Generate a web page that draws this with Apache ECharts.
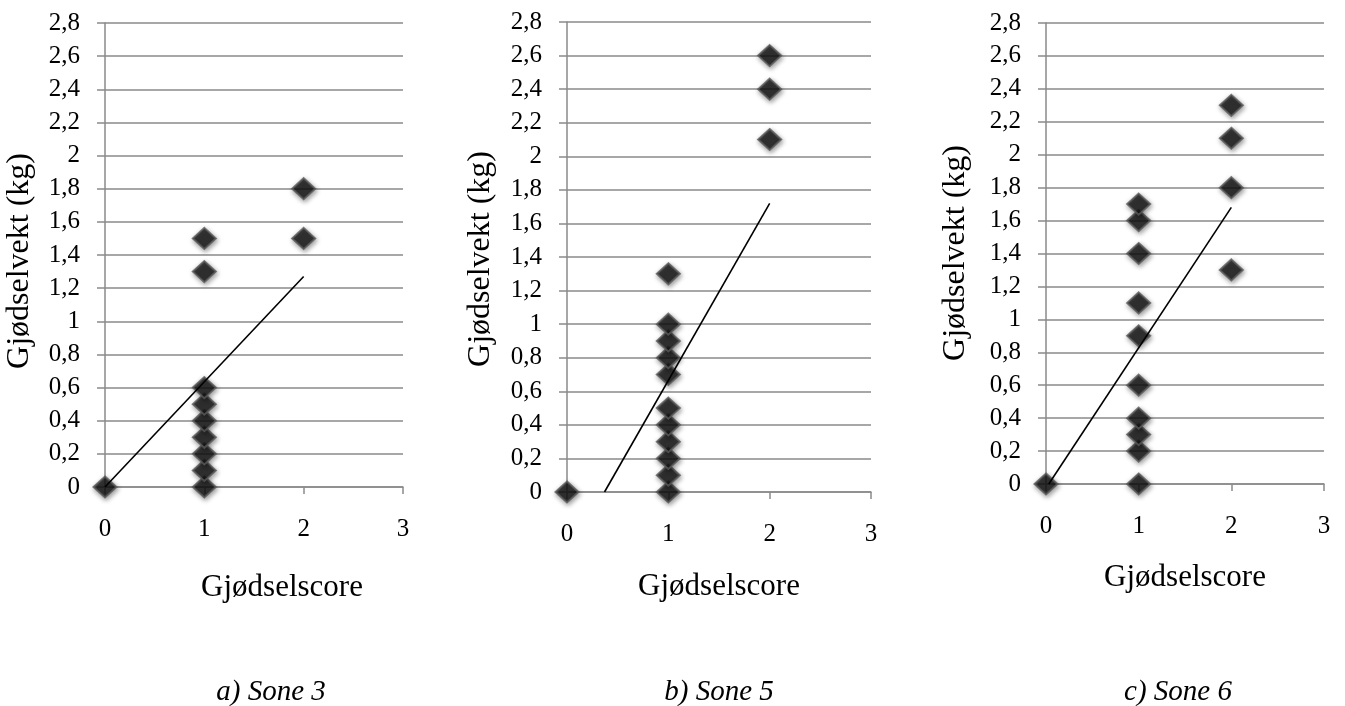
<!DOCTYPE html>
<html>
<head>
<meta charset="utf-8">
<title>Gjødselvekt mot gjødselscore</title>
<script src="https://cdn.jsdelivr.net/npm/echarts@6/dist/echarts.min.js"></script>
<style>
    html, body { margin: 0; padding: 0; background: #fff; }
    #main { width: 1345px; height: 706px; }
</style>
</head>
<body>
<div id="main"></div>
<script>
// data: gjødselscore (x) and gjødselvekt in kg (y)
var xTicks = [0, 1, 2, 3];
var yTicks = [0, 0.2, 0.4, 0.6, 0.8, 1, 1.2, 1.4, 1.6, 1.8, 2, 2.2, 2.4, 2.6, 2.8];

// a) Sone 3
var score3 = [0, 1, 1, 1, 1, 1, 1, 1, 1, 1, 2, 2];
var vekt3 = [0, 0, 0.1, 0.2, 0.3, 0.4, 0.5, 0.6, 1.3, 1.5, 1.5, 1.8];
var trendX3 = [0, 2];
var trendY3 = [0, 1.27];

// b) Sone 5
var score5 = [0, 1, 1, 1, 1, 1, 1, 1, 1, 1, 1, 1, 2, 2, 2];
var vekt5 = [0, 0, 0.1, 0.2, 0.3, 0.4, 0.5, 0.7, 0.8, 0.9, 1, 1.3, 2.1, 2.4, 2.6];
var trendX5 = [0.37, 2];
var trendY5 = [0, 1.72];

// c) Sone 6
var score6 = [0, 1, 1, 1, 1, 1, 1, 1, 1, 1, 1, 2, 2, 2, 2];
var vekt6 = [0, 0, 0.2, 0.3, 0.4, 0.6, 0.9, 1.1, 1.4, 1.6, 1.7, 1.3, 1.8, 2.1, 2.3];
var trendX6 = [0.03, 2];
var trendY6 = [0, 1.68];

var xTitle = 'Gjødselscore';
var yTitle = 'Gjødselvekt (kg)';
var captions = ['a) Sone 3', 'b) Sone 5', 'c) Sone 6'];

var serif = 'Liberation Serif';
var gridColor = '#8a8a8a';

function pairs(xs, ys) {
    var d = [];
    for (var i = 0; i < xs.length; i++) {
        d.push([xs[i], ys[i]]);
    }
    return d;
}

function comma(v) {
    return String(Math.round(v * 10) / 10).replace('.', ',');
}

// tick labels
var tickText = { fontFamily: serif, fontSize: 25, color: '#000' };

function xAxisFor(idx) {
    return {
        type: 'value', gridIndex: idx,
        min: xTicks[0], max: xTicks[xTicks.length - 1], interval: 1,
        axisLine: { show: true, onZero: false, lineStyle: { color: gridColor, width: 1.5 } },
        axisTick: { show: true, length: 7, lineStyle: { color: gridColor, width: 1.5 } },
        axisLabel: {
            margin: 30, fontFamily: tickText.fontFamily, fontSize: tickText.fontSize,
            color: tickText.color
        },
        splitLine: { show: false }
    };
}

function yAxisFor(idx) {
    return {
        type: 'value', gridIndex: idx,
        min: yTicks[0], max: yTicks[yTicks.length - 1], interval: 0.2,
        axisLine: { show: true, lineStyle: { color: gridColor, width: 1.5 } },
        axisTick: { show: true, length: 8, lineStyle: { color: gridColor, width: 1.5 } },
        axisLabel: {
            margin: 25, formatter: comma, fontFamily: tickText.fontFamily,
            fontSize: tickText.fontSize, color: tickText.color
        },
        splitLine: { show: true, lineStyle: { color: gridColor, width: 1.5 } }
    };
}

function scatterFor(idx, xs, ys) {
    return {
        type: 'scatter', xAxisIndex: idx, yAxisIndex: idx,
        symbol: 'diamond', symbolSize: [23, 21],
        itemStyle: {
            color: '#111',
            borderColor: '#5a5a5a', borderWidth: 2,
            shadowBlur: 5, shadowColor: 'rgba(0,0,0,0.45)', shadowOffsetX: 1, shadowOffsetY: 2
        },
        data: pairs(xs, ys), z: 2
    };
}

function trendFor(idx, xs, ys) {
    return {
        type: 'line', xAxisIndex: idx, yAxisIndex: idx,
        showSymbol: false, symbol: 'none', silent: true,
        lineStyle: { color: '#000', width: 1.6 },
        data: pairs(xs, ys), z: 3
    };
}

function label(text, x, y, size, rot, italic) {
    return {
        type: 'text', x: x, y: y, rotation: rot || 0,
        style: {
            text: text, fill: '#000', align: 'center', verticalAlign: 'middle',
            font: (italic ? 'italic ' : '') + size + 'px ' + serif
        }
    };
}

var chart = echarts.init(document.getElementById('main'));
chart.setOption({
    backgroundColor: '#fff',
    animation: false,
    textStyle: { fontFamily: serif, color: '#000' },
    grid: [
        { left: 105, top: 23, width: 298, height: 464 },
        { left: 567, top: 22, width: 304, height: 470 },
        { left: 1046, top: 23, width: 278, height: 461 }
    ],
    xAxis: [xAxisFor(0), xAxisFor(1), xAxisFor(2)],
    yAxis: [yAxisFor(0), yAxisFor(1), yAxisFor(2)],
    series: [
        scatterFor(0, score3, vekt3), trendFor(0, trendX3, trendY3),
        scatterFor(1, score5, vekt5), trendFor(1, trendX5, trendY5),
        scatterFor(2, score6, vekt6), trendFor(2, trendX6, trendY6)
    ],
    graphic: [
        label(yTitle, 20, 261, 32, Math.PI / 2),
        label(yTitle, 481, 259, 32, Math.PI / 2),
        label(yTitle, 956, 253, 32, Math.PI / 2),
        label(xTitle, 282, 588, 31),
        label(xTitle, 719, 587, 31),
        label(xTitle, 1185, 578, 31),
        label(captions[0], 271, 692, 29, 0, true),
        label(captions[1], 719, 692, 29, 0, true),
        label(captions[2], 1178, 692, 29, 0, true)
    ]
});
</script>
</body>
</html>
